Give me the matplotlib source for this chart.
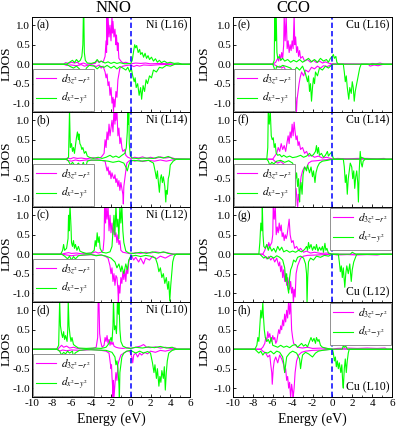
import matplotlib
matplotlib.use("Agg")
import matplotlib.pyplot as plt
from matplotlib.ticker import MultipleLocator

plt.rcParams['font.family'] = ['Liberation Serif', 'DejaVu Serif']
plt.rcParams['mathtext.fontset'] = 'stix'

# ---------------- data (energy eV, LDOS) ----------------
# Panel (a) Ni L16
A_Z_UP = [(-10,0),(-6.8,0),(-6.6,0.04),(-6.3,0.02),(-6.0,0.05),(-5.7,0.03),(-5.4,0.05),(-5.2,0),(-4.8,0.03),(-4.5,0),(-3.6,0.02),(-3.4,0.1),(-3.2,0.04),(-3.0,0.08),(-2.8,0.05),(-2.6,0.2),(-2.5,0.6),(-2.45,0.3),(-2.4,1.25),(-2.35,0.5),(-2.3,1.25),(-2.2,0.7),(-2.1,1.0),(-2.0,0.6),(-1.9,1.25),(-1.85,0.8),(-1.8,1.1),(-1.7,0.7),(-1.6,0.9),(-1.5,0.5),(-1.45,0.75),(-1.35,0.35),(-1.3,0.55),(-1.2,0.15),(-1.0,0.08),(-0.8,0.03),(-0.5,0.05),(-0.2,0.02),(0.0,0.01),(0.5,0.03),(1.0,0.02),(1.5,0.03),(2.0,0.01),(3.0,0.02),(4.0,0.01),(4.5,0),(6,0)]
A_Z_DN = [(-10,0),(-6.8,0),(-6.5,-0.03),(-6.0,-0.02),(-5.5,-0.04),(-5.0,-0.01),(-4.7,-0.05),(-4.0,-0.01),(-3.5,-0.06),(-3.2,-0.02),(-3.0,-0.1),(-2.8,-0.05),(-2.6,-0.2),(-2.5,-0.35),(-2.4,-0.25),(-2.3,-0.55),(-2.2,-0.45),(-2.1,-0.8),(-2.0,-0.6),(-1.9,-1.0),(-1.8,-0.85),(-1.75,-1.25),(-1.7,-0.9),(-1.6,-1.1),(-1.5,-0.7),(-1.4,-0.85),(-1.3,-0.4),(-1.2,-0.25),(-1.1,-0.1),(-0.8,-0.05),(-0.4,-0.03),(0.0,-0.02),(0.3,-0.06),(0.6,-0.03),(0.9,-0.05),(1.3,-0.02),(2.0,-0.03),(3.0,-0.01),(4.5,0),(6,0)]
A_X_UP = [(-10,0),(-6.5,0),(-6.2,0.05),(-5.9,0.1),(-5.7,0.04),(-5.5,0.12),(-5.3,0.06),(-5.1,0.1),(-4.95,0.2),(-4.85,0.5),(-4.8,1.25),(-4.75,1.25),(-4.7,0.3),(-4.6,0.1),(-4.4,0.03),(-4.0,0.02),(-3.6,0.05),(-3.4,0.12),(-3.2,0.05),(-3.0,0.08),(-2.6,0.03),(-2.3,0.06),(-2.0,0.02),(-1.7,0.05),(-1.4,0.02),(-1.1,0.04),(-0.6,0.01),(0.0,0.02),(0.15,0.1),(0.3,0.35),(0.4,0.5),(0.5,0.42),(0.6,0.48),(0.75,0.3),(0.9,0.38),(1.0,0.25),(1.15,0.3),(1.3,0.18),(1.45,0.28),(1.6,0.15),(1.75,0.22),(1.9,0.12),(2.1,0.18),(2.3,0.08),(2.5,0.14),(2.7,0.05),(2.9,0.1),(3.1,0.04),(3.4,0.08),(3.7,0.03),(4.0,0.05),(4.4,0.02),(4.8,0.03),(5.2,0),(6,0)]
A_X_DN = [(-10,0),(-6.5,0),(-6.2,-0.05),(-5.8,-0.1),(-5.5,-0.05),(-5.2,-0.12),(-5.0,-0.2),(-4.85,-0.4),(-4.78,-1.25),(-4.7,-1.25),(-4.65,-0.3),(-4.5,-0.1),(-4.2,-0.03),(-3.7,-0.05),(-3.4,-0.12),(-3.1,-0.05),(-2.7,-0.08),(-2.4,-0.03),(-2.0,-0.1),(-1.7,-0.05),(-1.4,-0.12),(-1.1,-0.06),(-0.8,-0.1),(-0.5,-0.15),(-0.3,-0.08),(-0.1,-0.2),(0.05,-0.1),(0.2,-0.3),(0.35,-0.45),(0.45,-0.35),(0.55,-0.6),(0.7,-0.5),(0.85,-0.8),(1.0,-0.6),(1.1,-0.9),(1.25,-0.55),(1.4,-0.7),(1.55,-0.4),(1.7,-0.5),(1.9,-0.3),(2.1,-0.35),(2.3,-0.15),(2.6,-0.2),(2.9,-0.08),(3.2,-0.1),(3.6,-0.03),(4.0,-0.05),(4.5,0),(6,0)]

# Panel (b) Ni L14
B_Z_UP = [(-10,0),(-6.6,0),(-6.4,0.03),(-6.1,0.01),(-5.8,0.04),(-5.4,0.02),(-5.0,0.03),(-4.5,0.01),(-3.8,0.04),(-3.4,0.02),(-3.0,0.05),(-2.7,0.15),(-2.6,0.5),(-2.5,0.3),(-2.4,0.7),(-2.3,0.5),(-2.2,0.9),(-2.1,0.6),(-2.0,0.8),(-1.9,1.0),(-1.8,0.7),(-1.7,1.25),(-1.6,0.9),(-1.55,1.25),(-1.5,1.0),(-1.4,1.25),(-1.3,0.6),(-1.2,0.8),(-1.1,0.4),(-1.0,0.55),(-0.9,0.3),(-0.8,0.2),(-0.6,0.25),(-0.5,0.1),(-0.3,0.05),(0.0,0.02),(0.4,0.05),(0.8,0.03),(1.2,0.06),(1.6,0.02),(2.0,0.05),(2.5,0.02),(3.0,0.06),(3.5,0.03),(4.0,0.05),(4.5,0.01),(6,0)]
B_Z_DN = [(-10,0),(-6.6,0),(-6.4,-0.03),(-6.0,-0.05),(-5.6,-0.02),(-5.2,-0.04),(-4.5,-0.02),(-4.0,-0.03),(-3.2,-0.02),(-2.6,-0.05),(-2.4,-0.3),(-2.3,-0.2),(-2.2,-0.4),(-2.1,-0.3),(-2.0,-0.5),(-1.9,-0.35),(-1.8,-0.45),(-1.7,-0.5),(-1.6,-0.4),(-1.5,-0.6),(-1.4,-0.5),(-1.3,-0.7),(-1.2,-0.55),(-1.1,-0.8),(-1.0,-0.6),(-0.9,-0.75),(-0.8,-0.9),(-0.75,-1.15),(-0.7,-0.7),(-0.6,-0.5),(-0.5,-0.3),(-0.4,-0.1),(-0.2,-0.05),(0.0,-0.02),(0.4,-0.05),(0.8,-0.02),(1.2,-0.06),(1.8,-0.03),(2.4,-0.05),(3.0,-0.02),(3.6,-0.05),(4.2,-0.02),(4.6,0),(6,0)]
B_X_UP = [(-10,0),(-6.5,0),(-6.3,0.05),(-6.2,1.25),(-6.12,0.3),(-6.0,0.4),(-5.9,0.2),(-5.8,0.3),(-5.7,0.15),(-5.6,0.35),(-5.5,0.55),(-5.4,0.7),(-5.3,0.5),(-5.25,0.65),(-5.15,0.4),(-5.05,0.35),(-4.95,0.25),(-4.85,0.3),(-4.7,0.15),(-4.55,0.2),(-4.4,0.08),(-4.2,0.05),(-3.8,0.02),(-3.3,0.05),(-2.9,0.02),(-2.5,0.05),(-2.1,0.1),(-1.8,0.05),(-1.5,0.08),(-1.2,0.04),(-0.9,0.1),(-0.6,0.15),(-0.45,0.3),(-0.35,0.7),(-0.3,1.25),(-0.25,0.9),(-0.2,1.25),(-0.15,0.4),(-0.05,0.1),(0.1,0.03),(0.6,0.02),(1.5,0.03),(2.3,0.02),(2.8,0.06),(3.3,0.03),(3.8,0.07),(4.2,0.02),(4.6,0),(6,0)]
B_X_DN = [(-10,0),(-6.5,0),(-6.3,-0.05),(-6.1,-0.15),(-5.9,-0.08),(-5.6,-0.18),(-5.3,-0.1),(-5.0,-0.2),(-4.8,-0.08),(-4.6,-0.25),(-4.4,-0.05),(-4.0,-0.02),(-3.0,-0.03),(-2.3,-0.05),(-1.8,-0.08),(-1.2,-0.05),(-0.7,-0.1),(-0.5,-0.2),(-0.35,-0.3),(-0.2,-0.15),(-0.05,-0.05),(0.3,-0.03),(1.0,-0.05),(1.8,-0.03),(2.3,-0.1),(2.5,-0.35),(2.6,-0.5),(2.7,-0.3),(2.8,-0.6),(2.9,-0.85),(3.0,-0.5),(3.1,-0.4),(3.2,-0.6),(3.3,-0.45),(3.45,-0.7),(3.55,-1.1),(3.6,-0.8),(3.7,-0.9),(3.8,-0.5),(3.9,-0.4),(4.0,-0.15),(4.3,-0.05),(4.6,0),(6,0)]

# Panel (c) Ni L12
C_Z_UP = [(-10,0),(-7.0,0),(-6.7,0.02),(-6.3,0.04),(-6.0,0.02),(-5.5,0.03),(-5.0,0.01),(-4.5,0.02),(-3.9,0.03),(-3.6,0.06),(-3.3,0.03),(-3.0,0.05),(-2.8,0.1),(-2.7,0.4),(-2.65,1.25),(-2.55,0.8),(-2.5,1.25),(-2.4,0.9),(-2.3,1.25),(-2.2,0.6),(-2.1,1.0),(-2.0,0.55),(-1.9,0.8),(-1.8,0.5),(-1.7,0.7),(-1.6,0.45),(-1.5,0.55),(-1.4,0.3),(-1.3,0.5),(-1.2,0.25),(-1.1,0.35),(-1.0,0.1),(-0.8,0.05),(-0.4,0.03),(0.0,0.01),(0.5,0.04),(1.0,0.02),(1.5,0.05),(2.0,0.03),(2.5,0.06),(3.0,0.04),(3.5,0.05),(4.0,0.02),(4.4,0),(6,0)]
C_Z_DN = [(-10,0),(-7.0,0),(-6.5,-0.02),(-6.0,-0.04),(-5.5,-0.02),(-5.0,-0.03),(-4.0,-0.01),(-3.5,-0.03),(-3.0,-0.02),(-2.6,-0.05),(-2.3,-0.1),(-2.1,-0.3),(-2.0,-0.5),(-1.9,-0.35),(-1.8,-0.7),(-1.7,-0.5),(-1.6,-0.8),(-1.5,-0.55),(-1.4,-0.6),(-1.3,-0.9),(-1.25,-1.25),(-1.2,-0.8),(-1.1,-1.0),(-1.0,-0.6),(-0.9,-0.75),(-0.8,-0.45),(-0.7,-0.65),(-0.6,-0.4),(-0.5,-0.7),(-0.4,-0.35),(-0.3,-0.5),(-0.2,-0.2),(-0.1,-0.1),(0.1,-0.05),(0.3,-0.15),(0.5,-0.08),(0.8,-0.2),(1.0,-0.1),(1.3,-0.25),(1.5,-0.1),(1.9,-0.15),(2.2,-0.05),(2.6,-0.12),(3.0,-0.05),(3.5,-0.1),(4.0,-0.03),(4.4,0),(6,0)]
C_X_UP = [(-10,0),(-7.1,0),(-6.9,0.1),(-6.8,0.25),(-6.7,0.1),(-6.5,0.15),(-6.35,0.4),(-6.3,1.0),(-6.25,0.6),(-6.15,1.25),(-6.05,0.7),(-6.0,0.3),(-5.9,0.2),(-5.8,0.35),(-5.7,0.15),(-5.6,0.25),(-5.45,0.1),(-5.3,0.2),(-5.15,0.08),(-4.9,0.05),(-4.5,0.02),(-4.0,0.03),(-3.7,0.1),(-3.6,0.35),(-3.5,0.2),(-3.4,0.55),(-3.3,0.3),(-3.2,0.45),(-3.1,0.15),(-2.9,0.05),(-2.5,0.03),(-2.1,0.06),(-1.9,0.2),(-1.8,0.6),(-1.7,1.0),(-1.6,0.5),(-1.5,1.25),(-1.4,0.7),(-1.3,0.9),(-1.2,0.4),(-1.1,1.25),(-1.0,0.8),(-0.9,1.25),(-0.8,0.6),(-0.7,0.3),(-0.5,0.08),(-0.2,0.03),(0.3,0.02),(1.0,0.05),(1.6,0.02),(2.2,0.06),(2.8,0.03),(3.3,0.06),(3.8,0.02),(4.3,0),(6,0)]
C_X_DN = [(-10,0),(-7.0,0),(-6.7,-0.05),(-6.4,-0.12),(-6.2,-0.05),(-6.0,-0.15),(-5.8,-0.06),(-5.6,-0.12),(-5.3,-0.04),(-4.8,-0.02),(-4.0,-0.01),(-3.5,-0.04),(-3.0,-0.02),(-2.5,-0.05),(-2.0,-0.1),(-1.6,-0.2),(-1.4,-0.35),(-1.2,-0.25),(-1.0,-0.45),(-0.9,-0.3),(-0.7,-0.5),(-0.5,-0.25),(-0.35,-0.4),(-0.2,-0.15),(0.0,-0.05),(0.5,-0.03),(1.0,-0.06),(1.5,-0.03),(2.0,-0.05),(2.5,-0.1),(2.7,-0.25),(2.85,-0.45),(3.0,-0.35),(3.15,-0.6),(3.3,-0.5),(3.45,-0.75),(3.6,-0.6),(3.75,-0.9),(3.85,-0.7),(3.95,-1.2),(4.05,-0.8),(4.15,-0.5),(4.25,-0.2),(4.4,-0.05),(4.6,0),(6,0)]

# Panel (d) Ni L10
D_Z_UP = [(-10,0),(-7.4,0),(-7.2,0.05),(-7.0,0.1),(-6.8,0.05),(-6.5,0.08),(-6.2,0.03),(-5.8,0.05),(-5.4,0.02),(-4.5,0.01),(-3.8,0.02),(-3.5,0.05),(-3.35,0.3),(-3.3,1.2),(-3.22,1.25),(-3.15,0.4),(-3.05,0.2),(-2.9,0.05),(-2.7,0.1),(-2.6,0.3),(-2.5,0.2),(-2.4,0.35),(-2.3,0.15),(-2.2,0.25),(-2.1,0.1),(-2.0,0.2),(-1.9,0.12),(-1.8,0.18),(-1.7,0.08),(-1.5,0.05),(-1.2,0.03),(-0.8,0.02),(-0.3,0.04),(0.0,0.02),(0.5,0.05),(1.0,0.08),(1.3,0.12),(1.6,0.05),(2.0,0.04),(2.5,0.06),(3.0,0.03),(3.5,0.05),(4.0,0.02),(4.5,0.03),(4.7,0),(6,0)]
D_Z_DN = [(-10,0),(-7.4,0),(-7.2,-0.05),(-6.9,-0.02),(-6.5,-0.04),(-6.0,-0.02),(-5.0,-0.03),(-4.0,-0.01),(-3.0,-0.03),(-2.5,-0.05),(-2.2,-0.1),(-2.1,-0.3),(-2.0,-0.5),(-1.95,-0.4),(-1.9,-0.7),(-1.85,-0.9),(-1.8,-1.25),(-1.75,-0.8),(-1.7,-1.25),(-1.6,-0.9),(-1.5,-0.6),(-1.4,-0.8),(-1.3,-0.4),(-1.2,-0.3),(-1.0,-0.15),(-0.7,-0.1),(-0.4,-0.05),(-0.1,-0.05),(0.1,-0.2),(0.2,-0.35),(0.3,-0.15),(0.5,-0.1),(0.7,-0.2),(0.9,-0.1),(1.1,-0.15),(1.4,-0.08),(1.7,-0.12),(2.0,-0.05),(2.5,-0.08),(3.0,-0.03),(3.5,-0.05),(4.0,-0.02),(4.6,0),(6,0)]
D_X_UP = [(-10,0),(-7.5,0),(-7.3,0.1),(-7.2,1.25),(-7.12,0.6),(-7.0,0.4),(-6.9,0.3),(-6.8,0.45),(-6.7,0.25),(-6.6,0.35),(-6.45,0.2),(-6.38,0.5),(-6.33,1.25),(-6.25,0.6),(-6.15,0.35),(-6.05,0.2),(-5.95,0.3),(-5.8,0.12),(-5.6,0.08),(-5.3,0.03),(-4.5,0.02),(-3.8,0.03),(-3.0,0.02),(-2.5,0.05),(-2.2,0.15),(-2.0,0.3),(-1.9,0.2),(-1.8,0.6),(-1.75,1.25),(-1.65,0.5),(-1.55,0.6),(-1.45,0.4),(-1.4,0.7),(-1.35,1.25),(-1.25,0.9),(-1.2,1.25),(-1.1,0.5),(-1.0,0.2),(-0.8,0.08),(-0.4,0.03),(0.0,0.02),(0.5,0.05),(1.2,0.03),(1.8,0.06),(2.4,0.04),(3.0,0.07),(3.6,0.03),(4.2,0.05),(4.6,0),(6,0)]
D_X_DN = [(-10,0),(-7.5,0),(-7.2,-0.05),(-7.0,-0.15),(-6.8,-0.08),(-6.6,-0.12),(-6.4,-0.05),(-6.2,-0.1),(-5.9,-0.05),(-5.75,-0.3),(-5.65,-0.1),(-5.2,-0.03),(-4.5,-0.01),(-3.5,-0.02),(-2.5,-0.03),(-1.9,-0.08),(-1.6,-0.2),(-1.5,-0.4),(-1.4,-0.3),(-1.3,-0.5),(-1.2,-0.9),(-1.15,-1.25),(-1.1,-0.6),(-1.0,-0.4),(-0.9,-0.2),(-0.7,-0.1),(-0.4,-0.05),(0.0,-0.03),(0.5,-0.1),(0.9,-0.05),(1.3,-0.1),(1.7,-0.06),(2.0,-0.1),(2.2,-0.35),(2.35,-0.6),(2.45,-0.4),(2.6,-0.75),(2.7,-0.5),(2.85,-0.95),(2.95,-0.7),(3.05,-0.85),(3.15,-0.55),(3.3,-0.75),(3.4,-0.45),(3.5,-1.05),(3.6,-0.6),(3.7,-0.3),(3.85,-0.1),(4.2,-0.03),(4.6,0),(6,0)]

# Panel (e) Cu L16
E_Z_UP = [(-10,0),(-6.0,0),(-5.7,0.05),(-5.5,0.15),(-5.4,0.08),(-5.3,0.25),(-5.2,0.1),(-5.1,0.3),(-5.0,0.15),(-4.9,0.5),(-4.85,1.25),(-4.75,0.6),(-4.65,1.25),(-4.55,0.4),(-4.45,0.6),(-4.35,0.3),(-4.25,0.5),(-4.15,0.35),(-4.05,0.6),(-3.95,0.4),(-3.85,1.25),(-3.78,0.5),(-3.7,0.7),(-3.6,0.3),(-3.5,0.45),(-3.4,0.2),(-3.3,0.35),(-3.2,0.15),(-3.0,0.2),(-2.8,0.08),(-2.5,0.12),(-2.2,0.05),(-1.9,0.1),(-1.6,0.04),(-1.3,0.08),(-1.0,0.03),(-0.7,0.06),(-0.3,0.02),(0.0,0.01),(3.8,0),(4.0,0.02),(4.4,0.01),(4.8,0.03),(5.2,0),(6,0)]
E_Z_DN = [(-10,0),(-6.0,0),(-5.7,-0.03),(-5.5,-0.08),(-5.3,-0.05),(-5.1,-0.1),(-4.9,-0.06),(-4.7,-0.15),(-4.5,-0.3),(-4.4,-0.2),(-4.3,-0.45),(-4.2,-0.35),(-4.1,-0.6),(-4.0,-0.5),(-3.9,-0.8),(-3.8,-0.65),(-3.75,-1.0),(-3.7,-0.85),(-3.62,-1.25),(-3.55,-0.9),(-3.45,-0.7),(-3.35,-0.5),(-3.25,-0.35),(-3.1,-0.2),(-2.9,-0.3),(-2.7,-0.15),(-2.4,-0.2),(-2.1,-0.08),(-1.8,-0.12),(-1.5,-0.05),(-1.2,-0.1),(-0.9,-0.04),(-0.5,-0.06),(-0.2,-0.02),(0.0,0),(3.6,0),(3.8,-0.05),(4.2,-0.02),(4.6,-0.04),(5.0,-0.01),(5.2,0),(6,0)]
E_X_UP = [(-10,0),(-6.0,0),(-5.85,0.1),(-5.8,1.25),(-5.72,0.6),(-5.65,1.25),(-5.58,0.3),(-5.5,0.15),(-5.35,0.2),(-5.2,0.1),(-5.0,0.15),(-4.8,0.08),(-4.5,0.12),(-4.2,0.05),(-3.9,0.1),(-3.6,0.06),(-3.3,0.12),(-3.0,0.05),(-2.7,0.1),(-2.4,0.15),(-2.1,0.06),(-1.8,0.12),(-1.5,0.05),(-1.2,0.15),(-0.9,0.08),(-0.6,0.12),(-0.4,0.05),(-0.2,0.15),(0.0,0.2),(0.1,0.25),(0.2,0.15),(0.35,0.2),(0.45,0.05),(0.6,0),(6,0)]
E_X_DN = [(-10,0),(-6.0,0),(-5.85,-0.1),(-5.78,-0.3),(-5.7,-0.15),(-5.6,-0.05),(-5.3,-0.08),(-5.0,-0.03),(-4.6,-0.06),(-4.2,-0.1),(-3.9,-0.2),(-3.6,-0.08),(-3.3,-0.15),(-3.0,-0.05),(-2.7,-0.25),(-2.5,-0.45),(-2.4,-0.3),(-2.3,-0.7),(-2.2,-0.5),(-2.1,-0.95),(-2.0,-0.6),(-1.9,-0.35),(-1.8,-0.5),(-1.7,-0.2),(-1.5,-0.3),(-1.3,-0.1),(-1.0,-0.15),(-0.7,-0.05),(-0.4,-0.1),(-0.1,-0.03),(0.0,0),(1.1,0),(1.2,-0.2),(1.3,-0.45),(1.4,-0.3),(1.5,-0.6),(1.65,-0.9),(1.75,-0.6),(1.9,-0.75),(2.0,-0.45),(2.1,-0.6),(2.2,-0.95),(2.3,-0.7),(2.45,-0.5),(2.6,-0.3),(2.75,-0.1),(2.9,0),(6,0)]

# Panel (f) Cu L14
F_Z_UP = [(-10,0),(-6.0,0),(-5.8,0.08),(-5.6,0.15),(-5.45,0.3),(-5.3,0.2),(-5.15,0.4),(-5.0,0.25),(-4.85,0.35),(-4.7,0.2),(-4.55,0.45),(-4.45,0.6),(-4.35,0.4),(-4.25,0.7),(-4.15,0.55),(-4.05,0.9),(-3.95,0.6),(-3.85,0.95),(-3.75,0.7),(-3.65,0.5),(-3.55,0.6),(-3.45,0.35),(-3.35,0.45),(-3.2,0.25),(-3.0,0.3),(-2.8,0.15),(-2.6,0.2),(-2.4,0.08),(-2.1,0.1),(-1.8,0.05),(-1.4,0.08),(-1.0,0.03),(-0.6,0.05),(-0.2,0.02),(0.0,0),(0.5,0.02),(1.5,0.01),(2.5,0.02),(3.5,0.02),(4.5,0.01),(5.2,0.02),(5.4,0),(6,0)]
F_Z_DN = [(-10,0),(-6.0,0),(-5.8,-0.05),(-5.5,-0.1),(-5.2,-0.06),(-4.9,-0.12),(-4.7,-0.2),(-4.55,-0.35),(-4.45,-0.25),(-4.35,-0.5),(-4.25,-0.4),(-4.15,-0.65),(-4.05,-0.5),(-3.95,-0.8),(-3.85,-0.6),(-3.75,-0.9),(-3.65,-0.75),(-3.55,-1.1),(-3.5,-1.25),(-3.42,-0.9),(-3.35,-1.05),(-3.25,-0.7),(-3.15,-0.45),(-3.0,-0.3),(-2.8,-0.2),(-2.6,-0.25),(-2.4,-0.1),(-2.1,-0.05),(-1.6,-0.04),(-1.0,-0.02),(0.0,0),(6,0)]
F_X_UP = [(-10,0),(-6.6,0),(-6.5,0.3),(-6.45,1.25),(-6.35,0.9),(-6.25,1.25),(-6.15,0.6),(-6.05,0.5),(-5.95,0.55),(-5.85,0.3),(-5.75,0.4),(-5.65,0.15),(-5.5,0.1),(-5.3,0.12),(-5.1,0.06),(-4.9,0.1),(-4.6,0.05),(-4.3,0.08),(-4.0,0.04),(-3.6,0.06),(-3.2,0.1),(-2.9,0.05),(-2.6,0.08),(-2.3,0.15),(-2.1,0.08),(-1.9,0.12),(-1.7,0.2),(-1.6,0.35),(-1.5,0.15),(-1.4,0.3),(-1.3,0.1),(-1.1,0.15),(-0.9,0.05),(-0.7,0.1),(-0.5,0.2),(-0.4,0.08),(-0.2,0.15),(-0.05,0.18),(0.05,0.05),(0.2,0),(2.8,0),(2.9,0.05),(3.2,0.02),(3.6,0),(6,0)]
F_X_DN = [(-10,0),(-6.6,0),(-6.45,-0.05),(-6.3,-0.15),(-6.1,-0.08),(-5.9,-0.12),(-5.6,-0.05),(-5.2,-0.03),(-4.8,-0.08),(-4.4,-0.04),(-4.0,-0.1),(-3.8,-0.3),(-3.7,-0.5),(-3.6,-0.35),(-3.5,-0.7),(-3.4,-0.5),(-3.3,-1.1),(-3.25,-0.8),(-3.15,-0.6),(-3.05,-0.9),(-2.95,-0.4),(-2.8,-0.2),(-2.6,-0.3),(-2.5,-0.15),(-2.3,-0.35),(-2.15,-0.2),(-2.0,-0.45),(-1.9,-0.3),(-1.75,-0.6),(-1.65,-0.35),(-1.5,-0.2),(-1.3,-0.1),(-1.0,-0.05),(-0.5,-0.03),(0.0,0),(1.1,0),(1.2,-0.2),(1.3,-0.6),(1.4,-0.4),(1.5,-0.9),(1.6,-0.5),(1.7,-0.3),(1.8,-0.1),(1.95,-0.2),(2.05,-0.5),(2.15,-0.3),(2.25,-0.75),(2.35,-0.45),(2.45,-0.3),(2.55,-0.6),(2.62,-1.1),(2.7,-0.3),(2.8,0.2),(2.9,-0.1),(3.0,-0.2),(3.1,-0.05),(3.3,0),(6,0)]

# Panel (g) Cu L12
G_Z_UP = [(-10,0),(-7.0,0),(-6.8,0.1),(-6.6,0.25),(-6.5,0.15),(-6.4,0.3),(-6.3,0.2),(-6.2,0.25),(-6.1,0.3),(-6.0,0.5),(-5.95,1.25),(-5.85,0.9),(-5.75,1.25),(-5.65,0.5),(-5.55,0.7),(-5.45,0.55),(-5.35,0.8),(-5.25,0.6),(-5.15,0.75),(-5.05,0.45),(-4.95,0.55),(-4.85,0.35),(-4.75,0.5),(-4.65,0.4),(-4.55,0.5),(-4.45,0.7),(-4.35,0.9),(-4.25,0.5),(-4.1,0.3),(-3.95,0.35),(-3.8,0.15),(-3.6,0.2),(-3.4,0.1),(-3.2,0.15),(-2.9,0.05),(-2.6,0.08),(-2.2,0.03),(-1.8,0.05),(-1.2,0.02),(-0.5,0.03),(0.0,0),(6,0)]
G_Z_DN = [(-10,0),(-7.0,0),(-6.8,-0.05),(-6.6,-0.12),(-6.4,-0.06),(-6.2,-0.15),(-6.0,-0.08),(-5.8,-0.2),(-5.6,-0.1),(-5.4,-0.3),(-5.3,-0.2),(-5.2,-0.45),(-5.1,-0.3),(-5.0,-0.6),(-4.9,-0.4),(-4.8,-0.7),(-4.7,-0.5),(-4.6,-0.8),(-4.5,-0.6),(-4.4,-0.75),(-4.3,-0.9),(-4.2,-0.7),(-4.1,-1.0),(-4.0,-0.85),(-3.92,-1.25),(-3.85,-0.9),(-3.75,-1.1),(-3.65,-0.5),(-3.5,-0.3),(-3.35,-0.2),(-3.2,-0.1),(-2.9,-0.05),(-2.5,-0.03),(-1.5,-0.02),(0.0,0),(0.5,-0.02),(1.5,-0.01),(2.5,-0.02),(3.5,-0.01),(4.5,-0.02),(5.0,0),(6,0)]
G_X_UP = [(-10,0),(-7.4,0),(-7.3,0.3),(-7.2,0.8),(-7.1,0.6),(-7.05,1.25),(-6.98,0.5),(-6.9,0.2),(-6.75,0.15),(-6.6,0.25),(-6.45,0.1),(-6.3,0.2),(-6.1,0.08),(-5.9,0.15),(-5.7,0.05),(-5.5,0.2),(-5.3,0.1),(-5.1,0.18),(-4.9,0.06),(-4.6,0.1),(-4.3,0.05),(-4.0,0.08),(-3.7,0.05),(-3.4,0.1),(-3.1,0.06),(-2.8,0.12),(-2.6,0.2),(-2.5,0.1),(-2.4,0.3),(-2.3,0.15),(-2.15,0.25),(-2.0,0.1),(-1.85,0.2),(-1.7,0.12),(-1.6,0.25),(-1.45,0.08),(-1.3,0.18),(-1.15,0.1),(-1.0,0.2),(-0.9,0.05),(-0.75,0.28),(-0.65,0.1),(-0.55,0.15),(-0.4,0.03),(0.0,0),(1.8,0),(2.0,0.05),(2.2,0.02),(2.4,0),(6,0)]
G_X_DN = [(-10,0),(-7.3,0),(-7.1,-0.05),(-6.9,-0.1),(-6.7,-0.06),(-6.5,-0.12),(-6.2,-0.05),(-5.9,-0.1),(-5.6,-0.04),(-5.3,-0.08),(-5.0,-0.15),(-4.8,-0.35),(-4.7,-0.7),(-4.6,-0.5),(-4.5,-0.85),(-4.4,-1.0),(-4.3,-0.6),(-4.2,-0.4),(-4.05,-0.3),(-3.9,-0.15),(-3.7,-0.2),(-3.5,-0.08),(-3.2,-0.05),(-2.9,-0.1),(-2.7,-0.25),(-2.6,-0.5),(-2.55,-1.25),(-2.48,-0.6),(-2.4,-0.2),(-2.2,-0.1),(-1.9,-0.15),(-1.6,-0.05),(-1.2,-0.08),(-0.8,-0.03),(-0.4,-0.05),(0.0,0),(0.6,0),(0.7,-0.2),(0.8,-0.45),(0.9,-0.3),(1.0,-0.6),(1.1,-0.35),(1.25,-0.85),(1.35,-0.5),(1.45,-0.3),(1.6,-0.5),(1.75,-0.25),(1.9,-0.7),(2.0,-0.4),(2.15,-0.2),(2.3,-0.1),(2.45,0),(6,0)]

# Panel (h) Cu L10
H_Z_UP = [(-10,0),(-7.2,0),(-7.0,0.05),(-6.8,0.15),(-6.7,0.3),(-6.6,0.2),(-6.5,0.45),(-6.4,0.3),(-6.3,0.4),(-6.2,0.25),(-6.1,0.2),(-6.0,0.35),(-5.9,0.25),(-5.8,0.3),(-5.7,0.15),(-5.6,0.2),(-5.5,0.35),(-5.4,0.5),(-5.3,0.4),(-5.2,0.6),(-5.1,0.5),(-5.0,0.75),(-4.9,0.6),(-4.8,0.9),(-4.7,0.7),(-4.6,1.0),(-4.5,0.8),(-4.4,1.25),(-4.3,0.9),(-4.2,1.25),(-4.1,0.5),(-4.0,0.3),(-3.9,0.15),(-3.7,0.1),(-3.5,0.05),(-3.0,0.03),(-2.5,0.05),(-2.0,0.02),(-1.0,0.03),(0.0,0),(0.5,0.02),(1.5,0.03),(2.5,0.02),(3.5,0.03),(4.5,0.02),(5.3,0.03),(5.5,0),(6,0)]
H_Z_DN = [(-10,0),(-7.2,0),(-7.0,-0.05),(-6.7,-0.1),(-6.5,-0.2),(-6.3,-0.15),(-6.2,-0.4),(-6.1,-0.6),(-6.05,-0.9),(-5.95,-0.5),(-5.85,-0.3),(-5.7,-0.2),(-5.5,-0.35),(-5.3,-0.15),(-5.1,-0.25),(-4.9,-0.4),(-4.8,-0.6),(-4.7,-0.5),(-4.6,-0.8),(-4.5,-0.7),(-4.4,-1.0),(-4.3,-0.85),(-4.2,-1.25),(-4.1,-0.9),(-4.0,-1.1),(-3.95,-1.25),(-3.85,-1.0),(-3.75,-0.6),(-3.6,-0.3),(-3.4,-0.15),(-3.1,-0.08),(-2.7,-0.05),(-2.0,-0.03),(-1.0,-0.02),(0.0,0),(6,0)]
H_X_UP = [(-10,0),(-7.8,0),(-7.6,0.1),(-7.5,0.3),(-7.4,0.2),(-7.3,0.6),(-7.2,1.0),(-7.1,0.8),(-7.0,1.2),(-6.95,0.9),(-6.85,0.5),(-6.75,0.3),(-6.6,0.2),(-6.45,0.25),(-6.3,0.15),(-6.15,0.3),(-6.0,0.1),(-5.8,0.08),(-5.5,0.05),(-5.2,0.1),(-4.9,0.05),(-4.6,0.08),(-4.3,0.04),(-4.0,0.1),(-3.7,0.12),(-3.5,0.05),(-3.3,0.1),(-3.1,0.15),(-2.9,0.08),(-2.7,0.12),(-2.5,0.06),(-2.3,0.2),(-2.15,0.3),(-2.0,0.2),(-1.85,0.28),(-1.7,0.15),(-1.6,0.3),(-1.45,0.2),(-1.35,0.25),(-1.2,0.1),(-1.0,0.05),(-0.5,0.02),(0.0,0),(1.0,0),(1.1,0.1),(1.2,0.05),(1.35,0.08),(1.5,0),(6,0)]
H_X_DN = [(-10,0),(-7.8,0),(-7.6,-0.05),(-7.4,-0.1),(-7.2,-0.05),(-7.0,-0.15),(-6.8,-0.08),(-6.5,-0.1),(-6.2,-0.05),(-5.9,-0.12),(-5.6,-0.05),(-5.3,-0.08),(-5.0,-0.2),(-4.9,-0.35),(-4.8,-0.6),(-4.7,-0.4),(-4.6,-0.2),(-4.3,-0.1),(-4.0,-0.05),(-3.6,-0.1),(-3.3,-0.25),(-3.2,-0.5),(-3.1,-0.3),(-3.0,-0.15),(-2.7,-0.08),(-2.4,-0.12),(-2.0,-0.2),(-1.7,-0.1),(-1.4,-0.05),(-1.0,-0.03),(0.0,0),(0.1,-0.1),(0.2,-0.3),(0.3,-0.2),(0.4,-0.45),(0.5,-0.3),(0.6,-0.5),(0.7,-0.35),(0.85,-0.6),(0.95,-0.4),(1.05,-0.9),(1.1,-1.0),(1.2,-0.5),(1.3,-0.25),(1.4,-0.6),(1.5,-0.3),(1.6,-0.1),(1.7,0),(6,0)]

COLUMN_TITLES = ["NNO", "CCO"]
PANEL_LETTERS = ["(a)", "(b)", "(c)", "(d)", "(e)", "(f)", "(g)", "(h)"]
SITE_LABELS = ["Ni (L16)", "Ni (L14)", "Ni (L12)", "Ni (L10)",
               "Cu (L16)", "Cu (L14)", "Cu (L12)", "Cu (L10)"]
ORBITAL_LABELS = [r"$d_{3z^2\!-\!r^2}$", r"$d_{x^2\!-\!y^2}$"]
X_TICKS = [-10, -8, -6, -4, -2, 0, 2, 4, 6]
Y_TICKS = [-1.0, -0.5, 0.0, 0.5, 1.0]

CURVES = [
    (A_Z_UP, A_Z_DN, A_X_UP, A_X_DN),
    (B_Z_UP, B_Z_DN, B_X_UP, B_X_DN),
    (C_Z_UP, C_Z_DN, C_X_UP, C_X_DN),
    (D_Z_UP, D_Z_DN, D_X_UP, D_X_DN),
    (E_Z_UP, E_Z_DN, E_X_UP, E_X_DN),
    (F_Z_UP, F_Z_DN, F_X_UP, F_X_DN),
    (G_Z_UP, G_Z_DN, G_X_UP, G_X_DN),
    (H_Z_UP, H_Z_DN, H_X_UP, H_X_DN),
]

# ---------------- layout ----------------
W, H = 399, 428
fig = plt.figure(figsize=(W / 100, H / 100), dpi=100)

col_left = [32, 233]
col_width = [158, 159]
ylabel_x = [12.5, 211.0]
top0 = 16.7
ph = 95.0

MAG = "#FF00FF"
GRN = "#00FF00"

for i, curves in enumerate(CURVES):
    col = i // 4
    row = i % 4
    bottom = H - (top0 + ph * (row + 1))
    ax = fig.add_axes([col_left[col] / W, bottom / H, col_width[col] / W, ph / H])
    zu, zd, xu, xd = curves
    for data, c, lab in ((zu, MAG, ORBITAL_LABELS[0]), (zd, MAG, None)):
        e, v = zip(*data)
        ax.plot(e, v, color=c, lw=0.8, label=lab)
    for data, c, lab in ((xu, GRN, ORBITAL_LABELS[1]), (xd, GRN, None)):
        e, v = zip(*data)
        ax.plot(e, v, color=c, lw=0.8, label=lab)
    ax.axvline(0, color="#0000FF", ls=(0, (3.5, 2)), lw=1.1)

    ax.set_xlim(-10, 6)
    ax.set_ylim(-1.22, 1.22)
    ax.set_xticks(X_TICKS)
    ax.xaxis.set_minor_locator(MultipleLocator(1))
    ax.set_yticks(Y_TICKS)
    ax.set_yticklabels([f"{t:.1f}" for t in Y_TICKS])
    ax.tick_params(which="major", direction="in", labelsize=8, length=2.5, width=0.6, pad=1.5)
    ax.tick_params(which="minor", direction="in", length=1.5, width=0.5)
    if row == 3:
        ax.set_xticklabels([str(t) for t in X_TICKS])
        ax.set_xlabel("Energy (eV)", fontsize=10)
        ax.xaxis.set_label_coords(0.5, -15.5 / ph)
    else:
        ax.tick_params(labelbottom=False)
    ax.set_ylabel("LDOS", fontsize=9.5)
    ax.yaxis.set_label_coords((ylabel_x[col] - col_left[col]) / col_width[col], 0.5)
    for s in ax.spines.values():
        s.set_linewidth(0.7)

    ax.text(0.03, 0.905, PANEL_LETTERS[i], transform=ax.transAxes,
            fontsize=8.5, va="center", ha="left")
    if i in (6, 7):
        ax.text(0.985, 0.1, SITE_LABELS[i], transform=ax.transAxes,
                fontsize=8.5, va="center", ha="right")
        leg_loc = "upper right"
    else:
        ax.text(0.985, 0.905, SITE_LABELS[i], transform=ax.transAxes,
                fontsize=8.5, va="center", ha="right")
        leg_loc = "lower left"
    leg = ax.legend(loc=leg_loc, fontsize=8, handlelength=1.8, handletextpad=0.4,
                    borderpad=0.3, labelspacing=0.45, borderaxespad=0.1,
                    fancybox=False, framealpha=1, edgecolor="0.5")
    leg.get_frame().set_linewidth(0.6)

for col, title in enumerate(COLUMN_TITLES):
    cx = [113, 293][col]
    fig.text(cx / W, 1 - 8 / H, title, fontsize=12, ha="center", va="center")

fig.savefig("out.png", dpi=100)
